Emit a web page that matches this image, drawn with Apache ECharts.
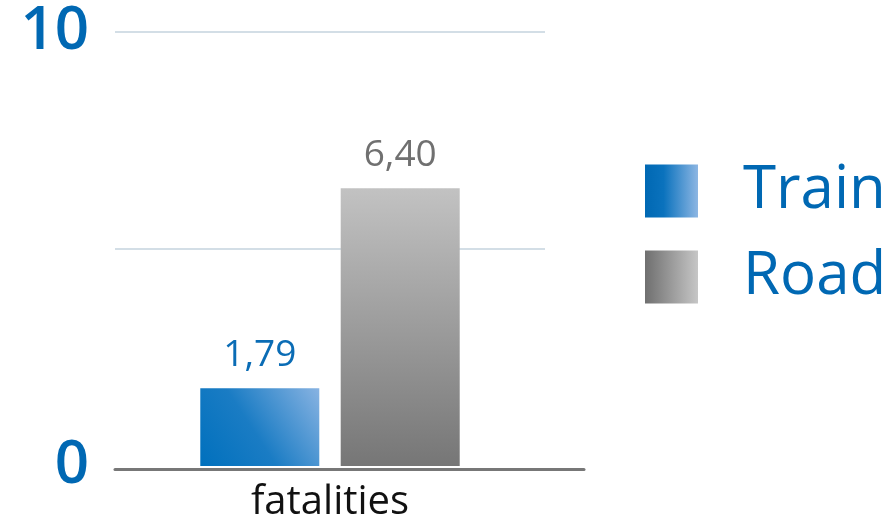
<!DOCTYPE html>
<html><head><meta charset="utf-8">
<script src="https://cdn.jsdelivr.net/npm/echarts@6/dist/echarts.min.js"></script>
<style>html,body{margin:0;padding:0;background:#fff}#c{width:892px;height:523px}</style>
</head><body><div id="c"></div>
<script>
const categories = ['fatalities'];
const seriesNames = ['Train', 'Road'];
const trainValues = [1.79];
const roadValues = [6.40];
const yTicks = [0, 5, 10];
const yLabelsShown = ['0', '10'];

const FONT = 'Open Sans';
const BLUE = '#0068b3';
const chart = echarts.init(document.getElementById('c'));
const fmt = p => p.value.toFixed(2).replace('.', ',');
chart.setOption({
  animation: false,
  grid: [
    {left: 115, right: 347, top: 32, bottom: 54, containLabel: false},
    {left: 115, right: 308, top: 32, bottom: 54, containLabel: false}
  ],
  xAxis: [
    {type: 'category', gridIndex: 0, data: categories,
     axisLine: {show: false}, axisTick: {show: false},
     axisLabel: {color: '#111', fontFamily: FONT, fontSize: 40, margin: 17}},
    {type: 'category', gridIndex: 1, data: categories,
     axisLine: {show: true, lineStyle: {color: '#777', width: 3}},
     axisTick: {show: false}, axisLabel: {show: false}}
  ],
  yAxis: [
    {type: 'value', gridIndex: 0, min: yTicks[0], max: yTicks[yTicks.length - 1], interval: 5,
     axisLine: {show: false}, axisTick: {show: false},
     splitLine: {showMinLine: false, lineStyle: {color: '#d3dee6', width: 2}},
     axisLabel: {color: BLUE, fontFamily: FONT, fontSize: 60, fontWeight: 600, margin: 26, padding: [6, 0, 0, 0],
       formatter: v => yLabelsShown.includes(String(v)) ? String(v) : ''}},
    {type: 'value', gridIndex: 1, min: 0, max: 10, show: false}
  ],
  legend: {
    orient: 'vertical', left: 640, top: 156,
    itemWidth: 53, itemHeight: 53, itemGap: 26,
    icon: 'rect',
    textStyle: {color: BLUE, fontFamily: FONT, fontSize: 60, padding: [0, 0, 0, 40]},
    data: [
      {name: seriesNames[0], itemStyle: {color: new echarts.graphic.LinearGradient(0, 0, 1, 0, [{offset: 0, color: '#0068b3'}, {offset: 0.35, color: '#0a72bd'}, {offset: 1, color: '#8db6e3'}])}},
      {name: seriesNames[1], itemStyle: {color: new echarts.graphic.LinearGradient(0, 0, 1, 0, [{offset: 0, color: '#6f6f6f'}, {offset: 1, color: '#c6c6c6'}])}}
    ]
  },
  series: [
    {name: seriesNames[0], type: 'bar', data: trainValues, barWidth: 119, barGap: '18%',
     itemStyle: {color: new echarts.graphic.LinearGradient(0, 1, 1, 0, [{offset: 0, color: '#0070bd'}, {offset: 0.45, color: '#1a7cc4'}, {offset: 1, color: '#88b3e2'}])},
     label: {show: true, position: 'top', distance: 14, formatter: fmt, color: '#0a6cb5', fontFamily: FONT, fontSize: 37, fontWeight: 500}},
    {name: seriesNames[1], type: 'bar', data: roadValues, barWidth: 119,
     itemStyle: {color: new echarts.graphic.LinearGradient(0, 0, 0, 1, [{offset: 0, color: '#c2c2c2'}, {offset: 1, color: '#767676'}])},
     label: {show: true, position: 'top', distance: 14, formatter: fmt, color: '#707070', fontFamily: FONT, fontSize: 37, fontWeight: 500}}
  ]
});
</script></body></html>
